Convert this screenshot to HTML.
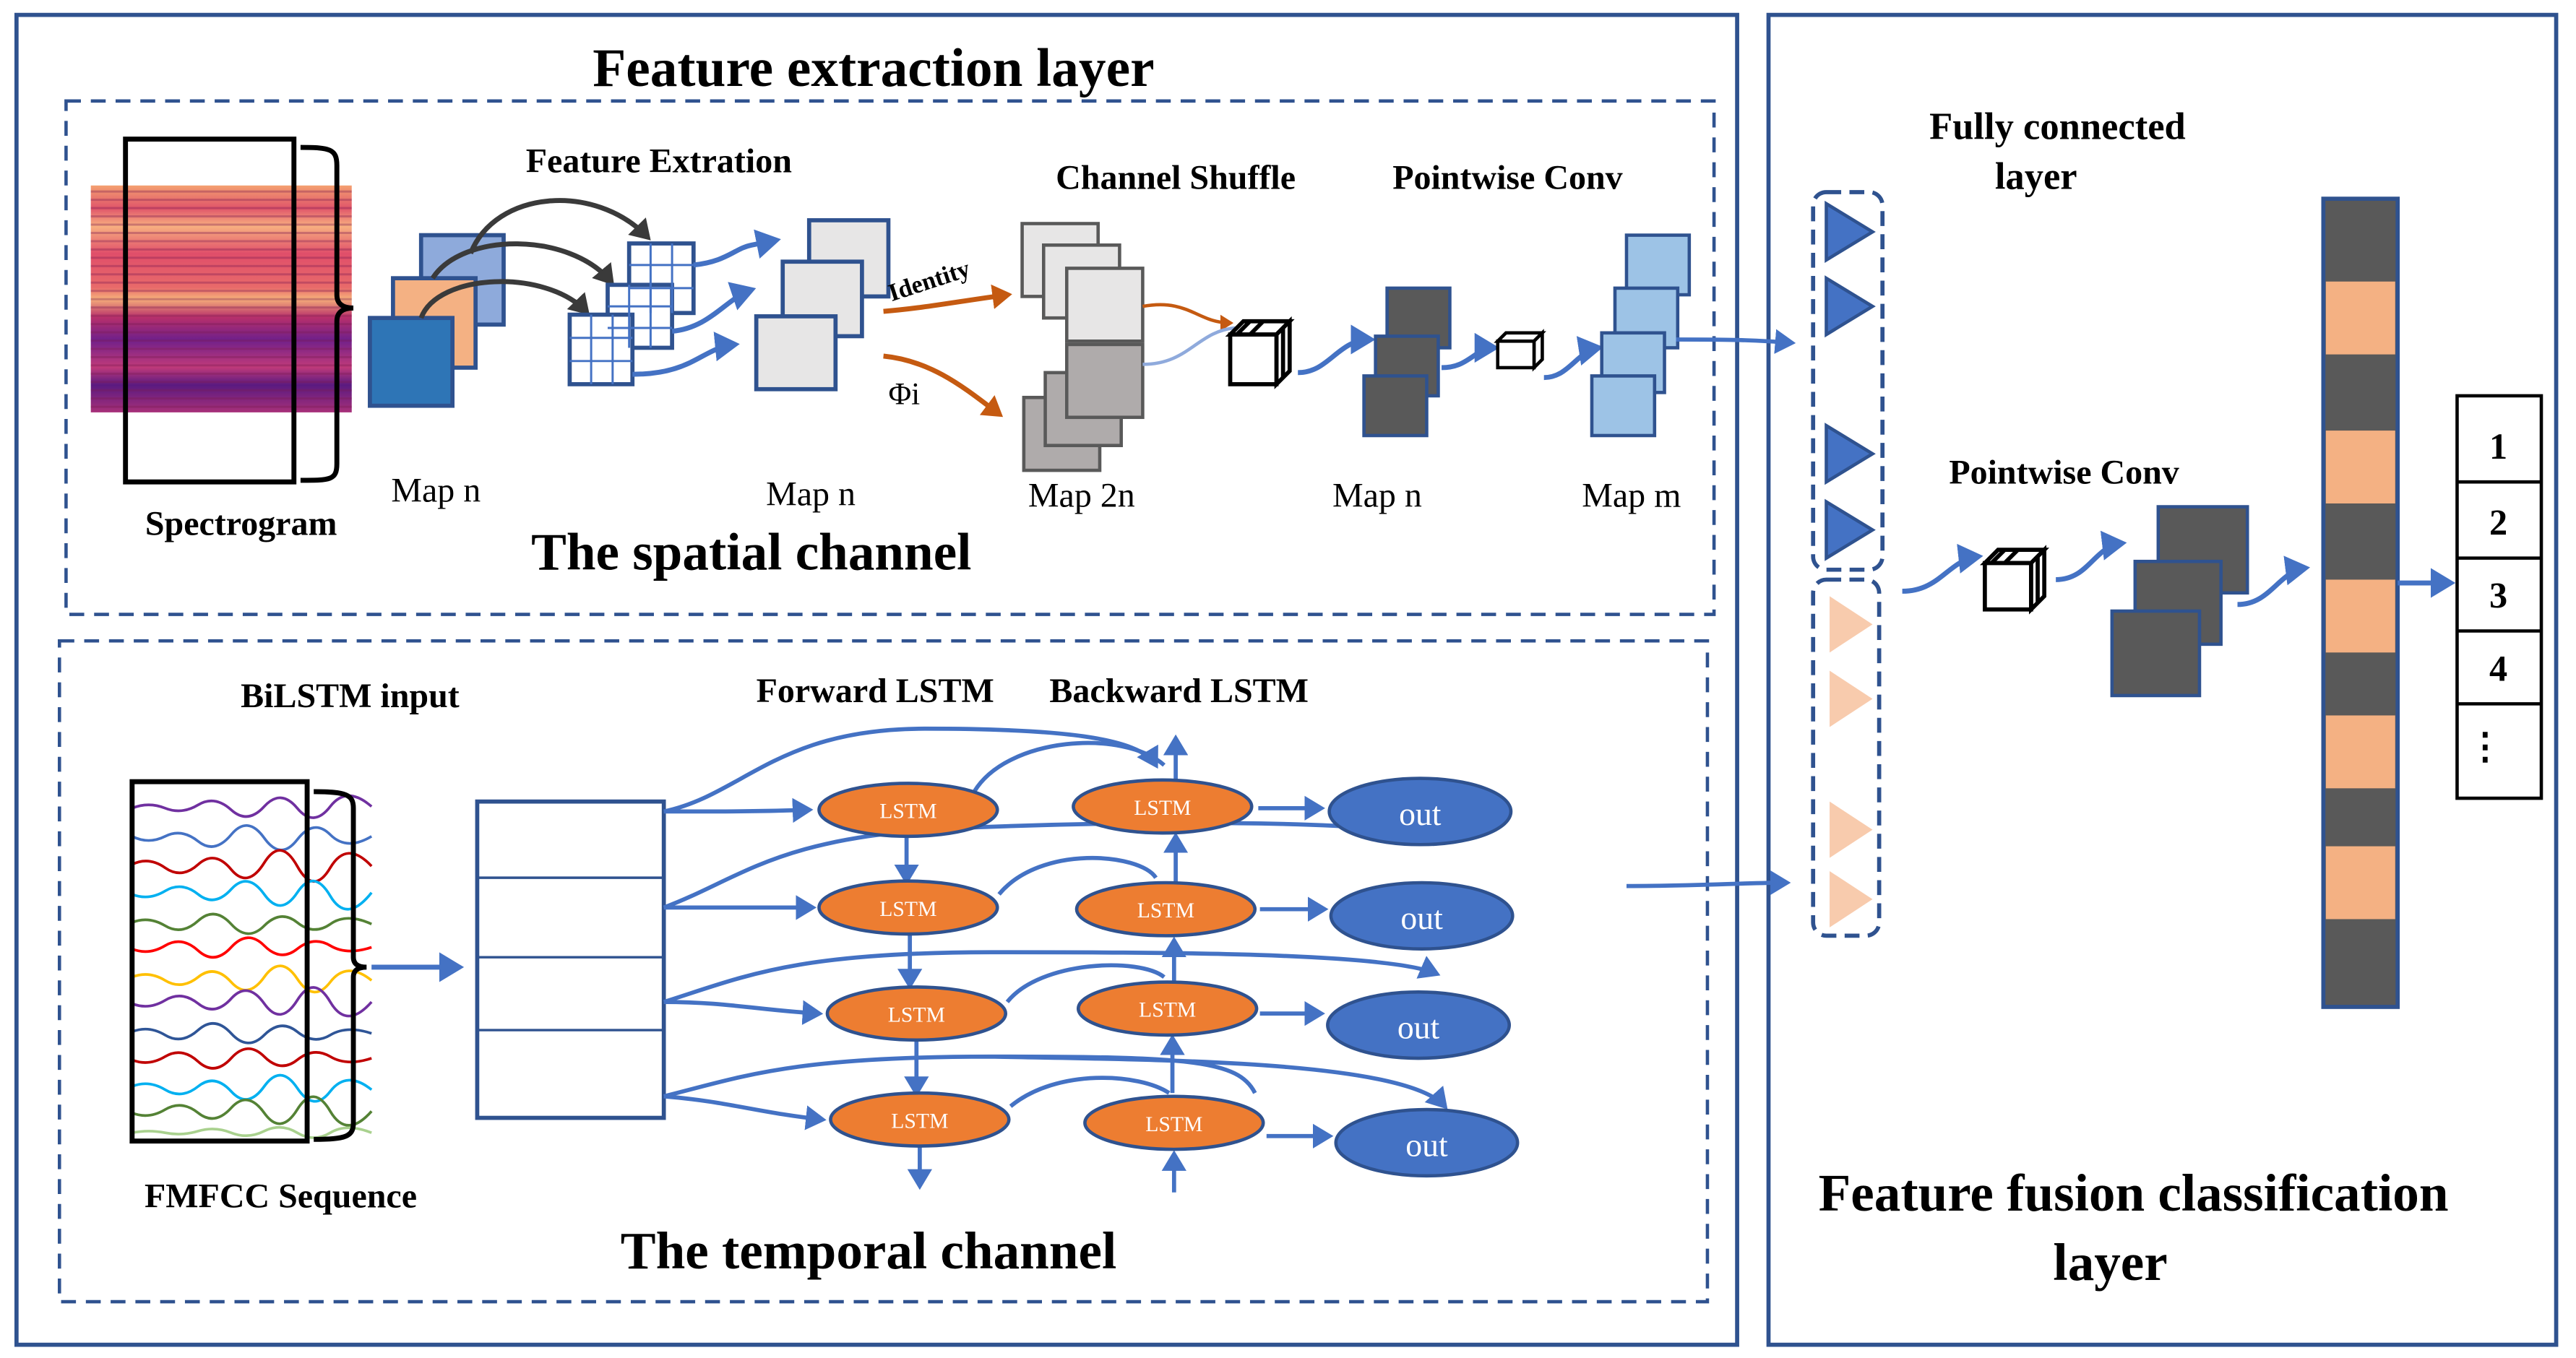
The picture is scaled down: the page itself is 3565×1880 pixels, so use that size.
<!DOCTYPE html>
<html><head><meta charset="utf-8"><style>
html,body{margin:0;padding:0;background:#fff;}
svg{display:block;}
text{font-family:"Liberation Serif",serif;}
.b{font-weight:bold;}
</style></head><body>
<svg width="3565" height="1880" viewBox="0 0 1560 820" preserveAspectRatio="none" xmlns="http://www.w3.org/2000/svg">
<defs>
<marker id="ab" markerWidth="6" markerHeight="6" refX="4" refY="3" orient="auto" markerUnits="strokeWidth"><path d="M0,0 L5,3 L0,6 z" fill="#4472c4"/></marker>
<marker id="ak" markerWidth="5" markerHeight="5" refX="3" refY="2.5" orient="auto" markerUnits="strokeWidth"><path d="M0,0 L4,2.5 L0,5 z" fill="#3a3a3a"/></marker>
<marker id="ao" markerWidth="5" markerHeight="5" refX="3" refY="2.5" orient="auto" markerUnits="strokeWidth"><path d="M0,0 L4,2.5 L0,5 z" fill="#c55a11"/></marker>
<linearGradient id="spec" x1="0" y1="0" x2="0" y2="1">
<stop offset="0" stop-color="#f4a070"/><stop offset="0.1" stop-color="#e0556a"/><stop offset="0.18" stop-color="#f8b080"/><stop offset="0.3" stop-color="#e04e6a"/><stop offset="0.45" stop-color="#e86a6a"/><stop offset="0.5" stop-color="#f6b07a"/><stop offset="0.58" stop-color="#b8306a"/><stop offset="0.68" stop-color="#70208a"/><stop offset="0.8" stop-color="#c03a7a"/><stop offset="0.88" stop-color="#5a1a80"/><stop offset="1" stop-color="#a8307a"/>
</linearGradient>
<pattern id="stripes" width="4" height="5" patternUnits="userSpaceOnUse"><rect width="4" height="1.3" fill="#7a1a50" opacity="0.35"/></pattern>
</defs>

<rect x="10" y="9" width="1042" height="803" fill="none" stroke="#2f528f" stroke-width="2.5"/>
<rect x="1071" y="9" width="477" height="803" fill="none" stroke="#2f528f" stroke-width="2.5"/>
<rect x="40" y="61" width="998" height="310" fill="none" stroke="#2f528f" stroke-width="2" stroke-dasharray="9,6"/>
<rect x="36" y="387" width="998" height="399" fill="none" stroke="#2f528f" stroke-width="2" stroke-dasharray="9,6"/>

<text x="529" y="52" text-anchor="middle" class="b" font-size="33">Feature extraction layer</text>

<rect x="55" y="112" width="158" height="137" fill="url(#spec)"/>
<rect x="55" y="112" width="158" height="137" fill="url(#stripes)"/>
<rect x="76" y="84" width="102" height="207" fill="none" stroke="#000" stroke-width="3"/>
<path d="M182,89 C200,89 204,90 204,100 L204,178 Q204,186 214,186 Q204,186 204,194 L204,280 C204,290 200,290 182,290" fill="none" stroke="#000" stroke-width="3"/>
<text x="146" y="323" text-anchor="middle" class="b" font-size="21">Spectrogram</text>

<rect x="255" y="142" width="50" height="54" fill="#8eaadb" stroke="#2f528f" stroke-width="2.5"/>
<rect x="238" y="168" width="50" height="54" fill="#f4b183" stroke="#2f528f" stroke-width="2.5"/>
<rect x="224" y="192" width="50" height="53" fill="#2e75b6" stroke="#2f528f" stroke-width="2.5"/>
<text x="264" y="303" text-anchor="middle" font-size="21">Map n</text>
<path d="M285,153 C300,115 360,110 392,143" fill="none" stroke="#3a3a3a" stroke-width="3" marker-end="url(#ak)"/>
<path d="M262,168 C280,140 345,140 370,170" fill="none" stroke="#3a3a3a" stroke-width="3" marker-end="url(#ak)"/>
<path d="M255,192 C265,165 330,162 355,188" fill="none" stroke="#3a3a3a" stroke-width="3" marker-end="url(#ak)"/>
<g fill="#fff" stroke="#2f528f" stroke-width="2.5">
<rect x="381" y="147" width="39" height="42"/><rect x="368" y="172" width="39" height="38"/><rect x="345" y="190" width="38" height="42"/>
</g>
<g stroke="#4472c4" stroke-width="1.3">
<path d="M394,147v42M407,147v42M381,160h39M381,174h39"/>
<path d="M381,172v38M394,172v38M368,185h39M368,198h39"/>
<path d="M358,190v42M371,190v42M345,204h38M345,218h38"/>
</g>
<text x="399" y="104" text-anchor="middle" class="b" font-size="21">Feature Extration</text>
<path d="M420,160 C440,158 445,150 455,148 L470,145" fill="none" stroke="#4472c4" stroke-width="3" marker-end="url(#ab)"/>
<path d="M407,200 C430,198 440,180 455,175" fill="none" stroke="#4472c4" stroke-width="3" marker-end="url(#ab)"/>
<path d="M383,226 C420,226 425,210 445,208" fill="none" stroke="#4472c4" stroke-width="3" marker-end="url(#ab)"/>
<g fill="#e7e6e6" stroke="#2f528f" stroke-width="2.5">
<rect x="490" y="133" width="48" height="46"/><rect x="474" y="158" width="48" height="45"/><rect x="458" y="191" width="48" height="44"/>
</g>
<text x="491" y="305" text-anchor="middle" font-size="21">Map n</text>

<path d="M535,188 C560,186 580,182 610,178" fill="none" stroke="#c55a11" stroke-width="3" marker-end="url(#ao)"/>
<text x="540" y="182" font-size="15" class="b" transform="rotate(-18 540 182)">Identity</text>
<path d="M535,215 C565,218 585,235 605,250" fill="none" stroke="#c55a11" stroke-width="3" marker-end="url(#ao)"/>
<text x="538" y="244" font-size="19">Φi</text>

<text x="712" y="114" text-anchor="middle" class="b" font-size="21">Channel Shuffle</text>
<g stroke="#595959" stroke-width="2">
<rect x="619" y="135" width="46" height="44" fill="#e7e6e6"/><rect x="632" y="148" width="46" height="44" fill="#e7e6e6"/><rect x="646" y="162" width="46" height="44" fill="#e7e6e6"/>
<rect x="620" y="240" width="46" height="44" fill="#afabab"/><rect x="633" y="225" width="46" height="44" fill="#afabab"/><rect x="646" y="208" width="46" height="44" fill="#afabab"/>
</g>
<text x="655" y="306" text-anchor="middle" font-size="21">Map 2n</text>
<path d="M692,185 C720,180 725,195 745,195" fill="none" stroke="#c55a11" stroke-width="2" marker-end="url(#ao)"/>
<path d="M692,220 C720,220 725,200 748,198" fill="none" stroke="#8faadc" stroke-width="2"/>

<g stroke="#000" stroke-width="2.5" fill="#fff">
<path d="M745,202 l8,-8 h28 l-8,8 z"/><path d="M773,202 l8,-8 v30 l-8,8 z"/><rect x="745" y="202" width="28" height="30"/>
<path d="M757,194 l-8,8 M765,194 l-8,8 M777,198 v30"/>
</g>
<text x="913" y="114" text-anchor="middle" class="b" font-size="21">Pointwise Conv</text>
<path d="M786,225 C805,225 810,205 830,205" fill="none" stroke="#4472c4" stroke-width="3" marker-end="url(#ab)"/>
<g fill="#595959" stroke="#2f528f" stroke-width="2">
<rect x="840" y="174" width="38" height="36"/><rect x="833" y="203" width="38" height="36"/><rect x="826" y="227" width="38" height="36"/>
</g>
<text x="834" y="306" text-anchor="middle" font-size="21">Map n</text>
<path d="M873,222 C890,222 893,210 905,210" fill="none" stroke="#4472c4" stroke-width="3" marker-end="url(#ab)"/>
<g stroke="#000" stroke-width="2" fill="#fff">
<path d="M907,206 l5,-5 h22 l-5,5 z"/><path d="M929,206 l5,-5 v16 l-5,5 z"/><rect x="907" y="206" width="22" height="16"/>
</g>
<path d="M935,228 C950,228 955,212 968,210" fill="none" stroke="#4472c4" stroke-width="3" marker-end="url(#ab)"/>
<g fill="#9dc3e6" stroke="#2f528f" stroke-width="2">
<rect x="985" y="142" width="38" height="36"/><rect x="978" y="174" width="38" height="36"/><rect x="970" y="201" width="38" height="36"/><rect x="964" y="227" width="38" height="36"/>
</g>
<text x="988" y="306" text-anchor="middle" font-size="21">Map m</text>
<text x="455" y="344" text-anchor="middle" class="b" font-size="32">The spatial channel</text>

<text x="212" y="427" text-anchor="middle" class="b" font-size="21">BiLSTM input</text>
<g fill="none" stroke-width="1.6">
<path d="M80,488 q10,-4 20,0 t20,-2 t20,3 t20,-2 t20,1 t20,-1 t25,0" stroke="#7030a0"/>
<path d="M80,505 q10,5 20,0 t20,3 t20,-4 t20,2 t20,1 t20,-3 t25,1" stroke="#4472c4"/>
<path d="M80,522 q10,-5 20,2 t20,-2 t20,3 t20,-4 t20,2 t20,1 t25,-1" stroke="#c00000"/>
<path d="M80,540 q10,4 20,-2 t20,2 t20,-3 t20,3 t20,-1 t20,2 t25,-2" stroke="#00b0f0"/>
<path d="M80,557 q10,-4 20,2 t20,-3 t20,2 t20,1 t20,-2 t20,1 t25,0" stroke="#548235"/>
<path d="M80,573 q10,4 20,-2 t20,3 t20,-2 t20,-1 t20,2 t20,-2 t25,1" stroke="#ff0000"/>
<path d="M80,590 q10,-4 20,2 t20,-2 t20,3 t20,-3 t20,1 t20,2 t25,-1" stroke="#ffc000"/>
<path d="M80,606 q10,4 20,-2 t20,2 t20,-3 t20,3 t20,-2 t20,1 t25,0" stroke="#7030a0"/>
<path d="M80,623 q10,-4 20,2 t20,-3 t20,2 t20,1 t20,-2 t20,2 t25,-1" stroke="#2f5597"/>
<path d="M80,640 q10,4 20,-2 t20,3 t20,-2 t20,-1 t20,2 t20,-2 t25,1" stroke="#c00000"/>
<path d="M80,656 q10,-4 20,2 t20,-2 t20,3 t20,-3 t20,1 t20,2 t25,-1" stroke="#00b0f0"/>
<path d="M80,672 q10,4 20,-2 t20,2 t20,-3 t20,3 t20,-2 t20,1 t25,0" stroke="#548235"/>
<path d="M80,684 q10,-2 20,0 t20,-1 t20,1 t20,-1 t20,1 t20,0 t25,0" stroke="#a9d18e"/>
</g>
<rect x="80" y="472" width="106" height="217" fill="none" stroke="#000" stroke-width="3"/>
<path d="M190,478 C210,478 214,480 214,488 L214,578 Q214,584 222,584 Q214,584 214,590 L214,678 C214,686 210,688 190,688" fill="none" stroke="#000" stroke-width="3"/>
<text x="170" y="729" text-anchor="middle" class="b" font-size="21">FMFCC Sequence</text>
<path d="M225,584 H278" stroke="#4472c4" stroke-width="3" marker-end="url(#ab)"/>
<rect x="289" y="484" width="113" height="191" fill="none" stroke="#2f528f" stroke-width="2.5"/>
<path d="M289,530 H402 M289,578 H402 M289,622 H402" stroke="#2f528f" stroke-width="1.5"/>
<text x="530" y="424" text-anchor="middle" class="b" font-size="21">Forward LSTM</text>
<text x="714" y="424" text-anchor="middle" class="b" font-size="21">Backward LSTM</text>

<g fill="none" stroke="#4472c4" stroke-width="2.5">
<path d="M402,490 C440,490 460,490 490,489" marker-end="url(#ab)"/>
<path d="M402,490 C450,480 470,440 560,440 C640,440 690,445 700,462" marker-end="url(#ab)"/>
<path d="M402,548 C440,548 460,548 492,548" marker-end="url(#ab)"/>
<path d="M402,548 C450,530 470,505 580,500 C700,495 850,495 880,508" marker-end="url(#ab)"/>
<path d="M402,605 C440,605 460,610 496,612" marker-end="url(#ab)"/>
<path d="M402,605 C450,590 480,575 600,575 C700,575 840,575 870,588" marker-end="url(#ab)"/>
<path d="M402,662 C440,665 460,672 498,676" marker-end="url(#ab)"/>
<path d="M402,662 C450,650 480,638 600,638 C720,638 750,640 760,660 M600,638 C700,640 850,640 875,668" marker-end="url(#ab)"/>
<path d="M549,503 V532" marker-end="url(#ab)"/><path d="M551,563 V595" marker-end="url(#ab)"/><path d="M555,628 V660" marker-end="url(#ab)"/><path d="M557,692 V716" marker-end="url(#ab)"/>
<path d="M711,720 V697" marker-end="url(#ab)"/><path d="M710,660 V627" marker-end="url(#ab)"/><path d="M711,595 V568" marker-end="url(#ab)"/><path d="M712,534 V505" marker-end="url(#ab)"/><path d="M712,472 V446" marker-end="url(#ab)"/>
<path d="M590,478 C610,445 680,440 705,462" />
<path d="M605,540 C630,510 690,515 700,530"/>
<path d="M610,605 C630,580 690,578 705,590"/>
<path d="M612,668 C640,645 690,648 708,660"/>
<path d="M762,488 H800" marker-end="url(#ab)"/><path d="M763,549 H802" marker-end="url(#ab)"/><path d="M763,612 H800" marker-end="url(#ab)"/><path d="M767,686 H805" marker-end="url(#ab)"/>
</g>

<g fill="#ed7d31" stroke="#2f528f" stroke-width="2">
<ellipse cx="550" cy="489" rx="54" ry="16"/><ellipse cx="550" cy="548" rx="54" ry="16"/><ellipse cx="555" cy="612" rx="54" ry="16"/><ellipse cx="557" cy="676" rx="54" ry="16"/>
<ellipse cx="704" cy="487" rx="54" ry="16"/><ellipse cx="706" cy="549" rx="54" ry="16"/><ellipse cx="707" cy="609" rx="54" ry="16"/><ellipse cx="711" cy="678" rx="54" ry="16"/>
</g>
<g font-size="13" fill="#fff" text-anchor="middle">
<text x="550" y="494" font-family="Liberation Sans,sans-serif">LSTM</text><text x="550" y="553" font-family="Liberation Sans,sans-serif">LSTM</text><text x="555" y="617" font-family="Liberation Sans,sans-serif">LSTM</text><text x="557" y="681" font-family="Liberation Sans,sans-serif">LSTM</text>
<text x="704" y="492" font-family="Liberation Sans,sans-serif">LSTM</text><text x="706" y="554" font-family="Liberation Sans,sans-serif">LSTM</text><text x="707" y="614" font-family="Liberation Sans,sans-serif">LSTM</text><text x="711" y="683" font-family="Liberation Sans,sans-serif">LSTM</text>
</g>
<g fill="#4472c4" stroke="#2f528f" stroke-width="2">
<ellipse cx="860" cy="490" rx="55" ry="20"/><ellipse cx="861" cy="553" rx="55" ry="20"/><ellipse cx="859" cy="619" rx="55" ry="20"/><ellipse cx="864" cy="690" rx="55" ry="20"/>
</g>
<g font-size="20" fill="#fff" text-anchor="middle">
<text x="860" y="498" font-family="Liberation Sans,sans-serif">out</text><text x="861" y="561" font-family="Liberation Sans,sans-serif">out</text><text x="859" y="627" font-family="Liberation Sans,sans-serif">out</text><text x="864" y="698" font-family="Liberation Sans,sans-serif">out</text>
</g>
<text x="526" y="766" text-anchor="middle" class="b" font-size="32">The temporal channel</text>

<path d="M1015,205 C1040,205 1060,205 1085,207" fill="none" stroke="#4472c4" stroke-width="2.5" marker-end="url(#ab)"/>
<path d="M985,535 C1030,535 1055,533 1082,533" fill="none" stroke="#4472c4" stroke-width="2.5" marker-end="url(#ab)"/>
<text x="1246" y="84" text-anchor="middle" class="b" font-size="23">Fully connected</text>
<text x="1233" y="114" text-anchor="middle" class="b" font-size="23">layer</text>
<rect x="1098" y="116" width="42" height="228" rx="8" fill="none" stroke="#2f528f" stroke-width="2.5" stroke-dasharray="9,5"/>
<rect x="1098" y="350" width="40" height="215" rx="8" fill="none" stroke="#2f528f" stroke-width="2.5" stroke-dasharray="9,5"/>
<g fill="#4472c4" stroke="#2f528f" stroke-width="2">
<path d="M1106,123 L1134,140 L1106,157 z"/><path d="M1106,168 L1134,185 L1106,202 z"/><path d="M1106,257 L1134,274 L1106,291 z"/><path d="M1106,303 L1134,320 L1106,337 z"/>
</g>
<g fill="#f8cbad">
<path d="M1108,360 L1134,377 L1108,394 z"/><path d="M1108,405 L1134,422 L1108,439 z"/><path d="M1108,484 L1134,501 L1108,518 z"/><path d="M1108,526 L1134,543 L1108,560 z"/>
</g>
<text x="1250" y="292" text-anchor="middle" class="b" font-size="21">Pointwise Conv</text>
<path d="M1152,357 C1175,357 1180,338 1198,336" fill="none" stroke="#4472c4" stroke-width="3" marker-end="url(#ab)"/>
<g stroke="#000" stroke-width="2.5" fill="#fff">
<path d="M1202,340 l8,-8 h28 l-8,8 z"/><path d="M1230,340 l8,-8 v28 l-8,8 z"/><rect x="1202" y="340" width="28" height="28"/>
<path d="M1214,332 l-8,8 M1222,332 l-8,8 M1234,336 v28"/>
</g>
<path d="M1245,350 C1265,350 1268,330 1285,328" fill="none" stroke="#4472c4" stroke-width="3" marker-end="url(#ab)"/>
<g fill="#595959" stroke="#2f528f" stroke-width="2">
<rect x="1307" y="306" width="54" height="52"/><rect x="1293" y="339" width="52" height="50"/><rect x="1279" y="369" width="53" height="51"/>
</g>
<path d="M1355,365 C1375,365 1380,345 1396,343" fill="none" stroke="#4472c4" stroke-width="3" marker-end="url(#ab)"/>
<rect x="1407" y="120" width="45" height="488" fill="#595959" stroke="#2f528f" stroke-width="2.5"/>
<g fill="#f4b183">
<rect x="1408.5" y="170" width="42" height="44"/><rect x="1408.5" y="260" width="42" height="44"/><rect x="1408.5" y="350" width="42" height="44"/><rect x="1408.5" y="432" width="42" height="44"/><rect x="1408.5" y="511" width="42" height="44"/>
</g>
<path d="M1452,352 H1484" stroke="#4472c4" stroke-width="3" marker-end="url(#ab)"/>
<rect x="1488" y="239" width="51" height="243" fill="#fff" stroke="#000" stroke-width="2"/>
<path d="M1488,291 H1539 M1488,337 H1539 M1488,381 H1539 M1488,425 H1539" stroke="#000" stroke-width="2"/>
<g font-size="22" text-anchor="middle">
<text x="1513" y="277" class="b">1</text><text x="1513" y="323" class="b">2</text><text x="1513" y="367" class="b">3</text><text x="1513" y="411" class="b">4</text><text x="1505" y="458" class="b">⋮</text>
</g>
<text x="1292" y="731" text-anchor="middle" class="b" font-size="32">Feature fusion classification</text>
<text x="1278" y="773" text-anchor="middle" class="b" font-size="32">layer</text>
</svg>
</body></html>
